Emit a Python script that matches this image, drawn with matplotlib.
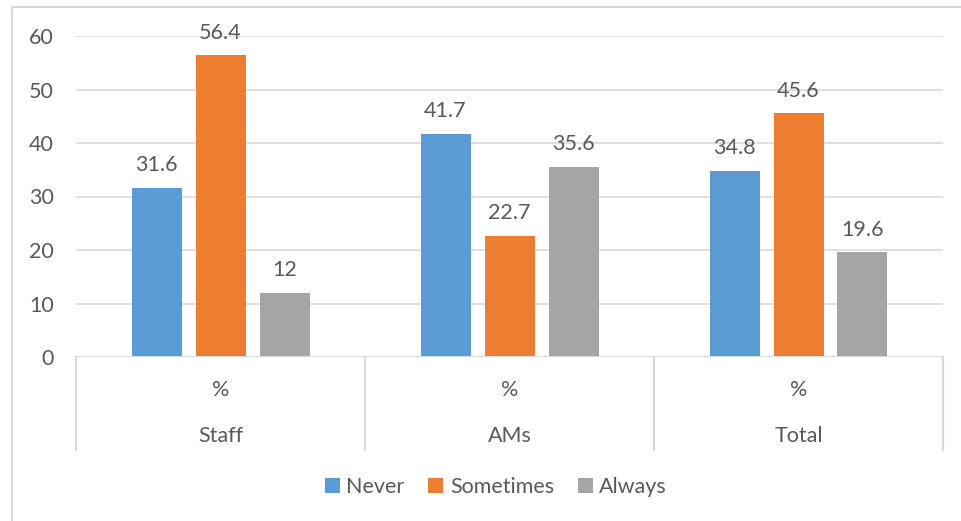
import matplotlib
matplotlib.use("Agg")
import matplotlib.pyplot as plt
from matplotlib.lines import Line2D
from matplotlib.patches import Patch
import numpy as np

plt.rcParams['font.family'] = ['Lato', 'DejaVu Sans']

groups = ['Staff', 'AMs', 'Total']
sub_label = '%'
series = ['Never', 'Sometimes', 'Always']
never = [31.6, 41.7, 34.8]
sometimes = [56.4, 22.7, 45.6]
always = [12, 35.6, 19.6]
yticks = [0, 10, 20, 30, 40, 50, 60]

colors = ['#5B9BD5', '#ED7D31', '#A5A5A5']
text_color = '#595959'
line_color = '#D9D9D9'
fs = 15.5

W, H = 961, 521
fig = plt.figure(figsize=(W / 100, H / 100), dpi=100)
ax = fig.add_axes([76 / W, 1 - 357 / H, (943 - 76) / W, (357 - 36) / H])

x = np.arange(len(groups))
step = 64 / 289
width = 50 / 289
for i, (name, vals) in enumerate(zip(series, [never, sometimes, always])):
    pos = x + (i - 1) * step
    ax.bar(pos, vals, width=width, color=colors[i], label=name, zorder=3)
    for p, v in zip(pos, vals):
        ax.annotate(f'{v:g}', (p, v), xytext=(0, 9), textcoords='offset points',
                    ha='center', va='bottom', fontsize=fs, color=text_color)

ax.set_xlim(-0.5, len(groups) - 0.5)
ax.set_ylim(0, 60)
ax.set_yticks(yticks)
ax.set_yticklabels([str(t) for t in yticks], fontsize=fs, color=text_color)
ax.tick_params(axis='y', length=0, pad=16)
ax.set_xticks([])
ax.grid(axis='y', color=line_color, linewidth=1.2, zorder=0)
for s in ax.spines.values():
    s.set_visible(False)
ax.axhline(0, color=line_color, linewidth=1.5, zorder=4)

# two-level category axis below the plot
trans = ax.get_xaxis_transform()
for b in np.arange(len(groups) + 1) - 0.5:
    ax.add_line(Line2D([b, b], [0, -93 / 321], transform=trans, color=line_color,
                       linewidth=1.5, clip_on=False))
for xi, g in zip(x, groups):
    ax.text(xi, -33 / 321, sub_label, transform=trans, ha='center', va='center',
            fontsize=fs, color=text_color)
    ax.text(xi, -79 / 321, g, transform=trans, ha='center', va='center',
            fontsize=fs, color=text_color)

handles = [Patch(facecolor=c, label=n) for c, n in zip(colors, series)]
fig.legend(handles=handles, loc='center', bbox_to_anchor=(496 / W, 1 - 487 / H),
           ncol=3, frameon=False, fontsize=fs, labelcolor=text_color,
           handlelength=0.7, handleheight=0.7, handletextpad=0.3, columnspacing=1.1)

# chart border (left and top edges)
fig.add_artist(Line2D([12 / W, 12 / W], [0, 1 - 7 / H], transform=fig.transFigure,
                      color=line_color, linewidth=1.5))
fig.add_artist(Line2D([12 / W, 1], [1 - 7 / H, 1 - 7 / H], transform=fig.transFigure,
                      color=line_color, linewidth=1.5))

fig.savefig('out.png', dpi=100)
